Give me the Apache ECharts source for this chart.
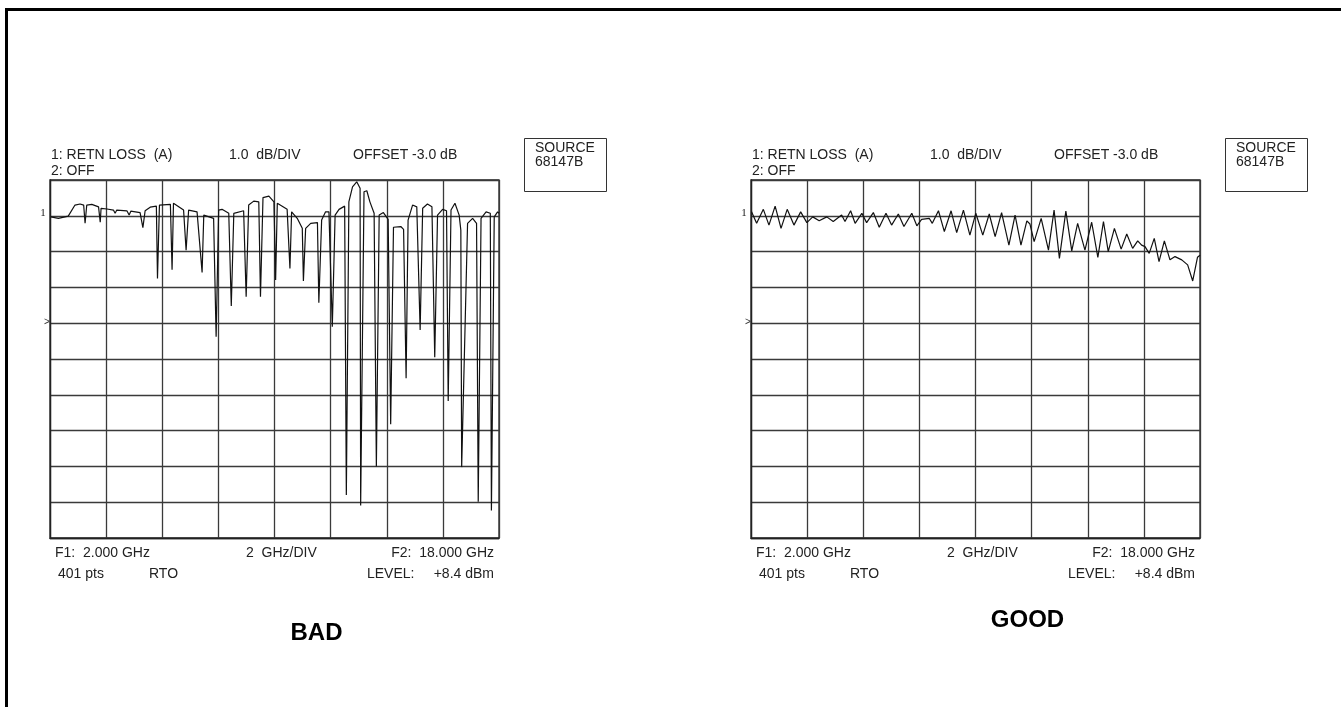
<!DOCTYPE html>
<html>
<head>
<meta charset="utf-8">
<script src="https://cdn.jsdelivr.net/npm/echarts@6/dist/echarts.min.js"></script>
<style>
html,body{margin:0;padding:0;background:#fff;}
#chart{width:1341px;height:707px;}
</style>
</head>
<body>
<div id="chart"></div>
<script>
// ---- data (frequency in GHz, return loss in dB) ----
var badFreq = [2.03,2.30,2.65,2.89,3.07,3.20,3.25,3.31,3.49,3.73,3.79,3.82,4.03,4.26,4.32,4.38,4.74,4.82,4.88,5.21,5.31,5.39,5.57,5.79,5.83,5.90,6.29,6.35,6.40,6.46,6.76,6.85,6.94,7.24,7.42,7.48,7.83,7.92,8.01,8.13,8.37,8.46,8.55,8.90,8.99,9.08,9.26,9.44,9.50,9.59,9.80,9.98,10.04,10.10,10.15,10.45,10.55,10.61,10.81,10.99,11.03,11.11,11.29,11.53,11.58,11.68,11.82,11.94,12.00,12.06,12.16,12.30,12.50,12.56,12.65,12.78,12.93,13.05,13.07,13.19,13.29,13.40,13.55,13.63,13.73,13.88,14.05,14.14,14.24,14.50,14.60,14.69,14.76,14.92,15.07,15.19,15.28,15.45,15.61,15.71,15.81,15.99,16.13,16.19,16.29,16.43,16.58,16.64,16.67,16.88,17.06,17.20,17.26,17.36,17.54,17.69,17.73,17.83,17.95,18.00];
var badLoss = [-3.03,-3.07,-3.01,-2.70,-2.67,-2.70,-3.21,-2.70,-2.68,-2.75,-3.18,-2.79,-2.81,-2.84,-2.93,-2.84,-2.86,-2.98,-2.87,-2.91,-3.33,-2.86,-2.76,-2.73,-4.75,-2.70,-2.68,-4.51,-2.65,-2.63,-2.84,-3.96,-2.84,-2.89,-4.58,-2.98,-3.07,-6.38,-2.84,-2.82,-2.93,-5.52,-2.93,-2.86,-5.26,-2.70,-2.59,-2.61,-5.26,-2.49,-2.45,-2.61,-4.79,-2.65,-2.62,-2.82,-4.47,-2.89,-3.07,-3.35,-4.82,-3.35,-3.21,-3.19,-5.43,-3.12,-2.89,-2.89,-2.93,-6.10,-2.98,-2.82,-2.73,-10.80,-2.61,-2.19,-2.05,-2.23,-11.09,-2.33,-2.30,-2.61,-2.93,-10.00,-2.98,-2.91,-3.10,-8.82,-3.32,-3.30,-3.38,-7.54,-3.12,-2.70,-2.75,-6.19,-2.79,-2.67,-2.75,-6.95,-2.98,-2.82,-2.86,-8.17,-2.84,-2.65,-2.98,-3.40,-10.02,-3.21,-3.07,-3.21,-10.99,-3.07,-2.89,-2.93,-11.23,-3.03,-2.89,-2.93];

var goodFreq = [2.02,2.20,2.44,2.64,2.86,3.07,3.29,3.53,3.77,3.99,4.20,4.43,4.70,4.93,5.23,5.35,5.55,5.71,5.95,6.12,6.36,6.57,6.81,7.01,7.25,7.45,7.73,7.91,8.08,8.35,8.46,8.68,8.89,9.13,9.33,9.57,9.80,10.01,10.26,10.49,10.70,10.93,11.19,11.41,11.62,11.83,11.94,12.09,12.34,12.60,12.80,12.99,13.22,13.43,13.64,13.90,14.14,14.36,14.56,14.73,14.95,15.19,15.39,15.60,15.78,15.92,16.04,16.19,16.37,16.54,16.73,16.93,17.11,17.35,17.56,17.74,17.91,18.00];
var goodLoss = [-2.89,-3.21,-2.82,-3.26,-2.73,-3.35,-2.82,-3.26,-2.89,-3.19,-3.03,-3.14,-3.03,-3.16,-2.98,-3.16,-2.86,-3.21,-2.93,-3.19,-2.91,-3.32,-2.93,-3.26,-2.95,-3.30,-2.93,-3.28,-3.10,-3.07,-3.21,-2.86,-3.44,-2.86,-3.47,-2.84,-3.54,-2.93,-3.54,-2.95,-3.58,-2.91,-3.82,-2.98,-3.82,-3.14,-3.23,-3.72,-3.07,-3.96,-2.84,-4.19,-2.87,-3.98,-3.21,-3.96,-3.18,-4.16,-3.16,-4.00,-3.35,-3.93,-3.51,-3.91,-3.70,-3.82,-3.86,-4.05,-3.63,-4.28,-3.70,-4.23,-4.14,-4.23,-4.37,-4.82,-4.16,-4.10];

// axis scale: 2 GHz/div from F1 to F2, 1.0 dB/div, 10 divisions
var freqStart = 2, freqStop = 18, freqDiv = 2;
var lossTop = -2, lossBottom = -12, lossDiv = 1;

// annotation texts
var headerTexts = ['1: RETN LOSS  (A)', '2: OFF', '1.0  dB/DIV', 'OFFSET -3.0 dB'];
var sourceTexts = ['SOURCE', '68147B'];
var footerTexts = ['F1:  2.000 GHz', '2  GHz/DIV', 'F2:  18.000 GHz', '401 pts', 'RTO', 'LEVEL:', '+8.4 dBm'];
var markerTexts = ['1', '>'];
var captions = ['BAD', 'GOOD'];

function zip(a, b) { return a.map(function (v, i) { return [v, b[i]]; }); }

var chart = echarts.init(document.getElementById('chart'), null, {renderer: 'canvas'});

var FONT = '"Liberation Sans", Arial, sans-serif';
var gridCfg = [
  {left: 50, top: 180, width: 449, height: 358},
  {left: 751, top: 180, width: 449, height: 358}
];

function axisPair(i) {
  return {
    x: {
      type: 'value', gridIndex: i, min: freqStart, max: freqStop, interval: freqDiv,
      axisLabel: {show: false}, axisTick: {show: false},
      axisLine: {show: true, lineStyle: {color: '#222', width: 1.3}},
      splitLine: {show: true, lineStyle: {color: '#3a3a3a', width: 1.3}}
    },
    y: {
      type: 'value', gridIndex: i, min: lossBottom, max: lossTop, interval: lossDiv,
      axisLabel: {show: false}, axisTick: {show: false},
      axisLine: {show: true, lineStyle: {color: '#222', width: 1.3}},
      splitLine: {show: true, lineStyle: {color: '#3a3a3a', width: 1.3}}
    }
  };
}
var a0 = axisPair(0), a1 = axisPair(1);

function txt(x, y, s, opt) {
  opt = opt || {};
  return {
    type: 'text', x: x, y: y, silent: true,
    style: {
      text: s, fill: opt.fill || '#222',
      font: opt.font || ('14px ' + FONT),
      align: opt.align || 'left', verticalAlign: 'middle'
    }
  };
}

var graphics = [
  {type: 'line', shape: {x1: 5, y1: 9.5, x2: 1341, y2: 9.5}, style: {stroke: '#000', lineWidth: 3}, silent: true},
  {type: 'line', shape: {x1: 6.5, y1: 8, x2: 6.5, y2: 707}, style: {stroke: '#000', lineWidth: 3}, silent: true}
];
[0, 701].forEach(function (dx) {
  graphics.push(txt(51 + dx, 155.5, headerTexts[0]));
  graphics.push(txt(51 + dx, 171.5, headerTexts[1]));
  graphics.push(txt(229 + dx, 155.5, headerTexts[2]));
  graphics.push(txt(353 + dx, 155.5, headerTexts[3]));
  graphics.push({type: 'rect', shape: {x: 524.5 + dx, y: 138.5, width: 82, height: 53},
    style: {fill: 'none', stroke: '#333', lineWidth: 1}, silent: true});
  graphics.push(txt(535 + dx, 148.5, sourceTexts[0]));
  graphics.push(txt(535 + dx, 162.5, sourceTexts[1]));
  graphics.push(txt(55 + dx, 553.5, footerTexts[0]));
  graphics.push(txt(246 + dx, 553.5, footerTexts[1]));
  graphics.push(txt(494 + dx, 553.5, footerTexts[2], {align: 'right'}));
  graphics.push(txt(58 + dx, 574.5, footerTexts[3]));
  graphics.push(txt(149 + dx, 574.5, footerTexts[4]));
  graphics.push(txt(367 + dx, 574.5, footerTexts[5]));
  graphics.push(txt(494 + dx, 574.5, footerTexts[6], {align: 'right'}));
  graphics.push(txt(43 + dx, 213, markerTexts[0], {font: '11px "Liberation Serif", serif', align: 'center'}));
  graphics.push(txt(47 + dx, 322, markerTexts[1], {font: '10px ' + FONT, align: 'center', fill: '#333'}));
});
graphics.push(txt(316.5, 633, captions[0], {font: 'bold 24px ' + FONT, align: 'center', fill: '#000'}));
graphics.push(txt(1027.5, 620.5, captions[1], {font: 'bold 24px ' + FONT, align: 'center', fill: '#000'}));

var option = {
  animation: false,
  backgroundColor: '#fff',
  grid: gridCfg.map(function (g) {
    return Object.assign({show: true, borderColor: '#222', borderWidth: 1.3, backgroundColor: 'transparent', containLabel: false}, g);
  }),
  xAxis: [a0.x, a1.x],
  yAxis: [a0.y, a1.y],
  series: [
    {type: 'line', name: 'BAD', xAxisIndex: 0, yAxisIndex: 0, data: zip(badFreq, badLoss),
      showSymbol: false, smooth: false, lineStyle: {color: '#111', width: 1.2}, z: 5},
    {type: 'line', name: 'GOOD', xAxisIndex: 1, yAxisIndex: 1, data: zip(goodFreq, goodLoss),
      showSymbol: false, smooth: false, lineStyle: {color: '#111', width: 1.2}, z: 5}
  ],
  graphic: graphics
};
chart.setOption(option);
</script>
</body>
</html>
